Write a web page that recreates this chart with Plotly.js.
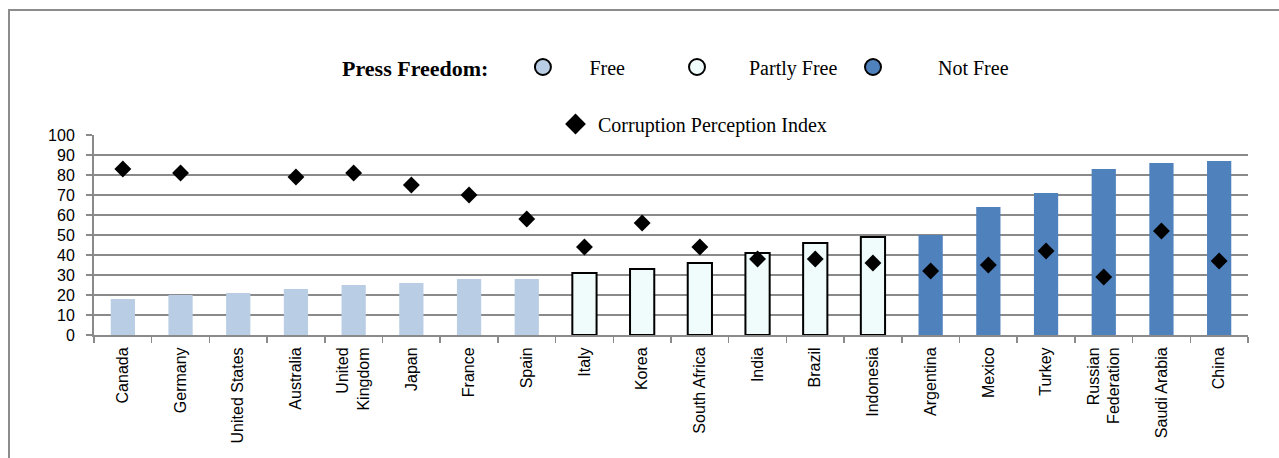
<!DOCTYPE html>
<html>
<head>
<meta charset="utf-8">
<script src="https://cdn.plot.ly/plotly-3.0.1.min.js"></script>
<style>
  html, body { margin: 0; padding: 0; background: #ffffff; }
  #chart { width: 1279px; height: 458px; }
</style>
</head>
<body>
<div id="chart"></div>
<script>
// ---------- data ----------
const countries = ["Canada", "Germany", "United States", "Australia", "United<br>Kingdom", "Japan",
  "France", "Spain", "Italy", "Korea", "South Africa", "India", "Brazil", "Indonesia",
  "Argentina", "Mexico", "Turkey", "Russian<br>Federation", "Saudi Arabia", "China"];

const freeCountries = ["Canada", "Germany", "United States", "Australia", "United<br>Kingdom", "Japan", "France", "Spain"];
const freeScores = [18, 20, 21, 23, 25, 26, 28, 28];

const partlyFreeCountries = ["Italy", "Korea", "South Africa", "India", "Brazil", "Indonesia"];
const partlyFreeScores = [31, 33, 36, 41, 46, 49];

const notFreeCountries = ["Argentina", "Mexico", "Turkey", "Russian<br>Federation", "Saudi Arabia", "China"];
const notFreeScores = [50, 64, 71, 83, 86, 87];

const cpiValues = [83, 81, null, 79, 81, 75, 70, 58, 44, 56, 44, 38, 38, 36, 32, 35, 42, 29, 52, 37];

const yTickValues = [0, 10, 20, 30, 40, 50, 60, 70, 80, 90, 100];

// ---------- styles ----------
const FREE_COLOR = "#B9CDE5";
const PARTLY_COLOR = "#F0FBFB";
const NOTFREE_COLOR = "#4F81BD";
const GRID = "#8A8A8A";
const SERIF = "Liberation Serif, Times New Roman, serif";
const SANS = "Liberation Sans, Arial, sans-serif";

// plot-area geometry helpers (paper coords)
const L = 94, R = 31, T = 135, B = 123, W = 1279, H = 458;
const pw = W - L - R, ph = H - T - B;
const px = x => (x - L) / pw;
const py = y => (H - B - y) / ph;

const barWidth = 0.42;

const traces = [
  { type: "bar", x: freeCountries, y: freeScores, width: barWidth,
    marker: { color: FREE_COLOR, line: { width: 0 } }, showlegend: false, hoverinfo: "x+y" },
  { type: "bar", x: partlyFreeCountries, y: partlyFreeScores, width: barWidth,
    marker: { color: PARTLY_COLOR, line: { color: "#000000", width: 2 } }, showlegend: false, hoverinfo: "x+y" },
  { type: "bar", x: notFreeCountries, y: notFreeScores, width: barWidth,
    marker: { color: NOTFREE_COLOR, line: { width: 0 } }, showlegend: false, hoverinfo: "x+y" },
  { type: "scatter", mode: "markers", x: countries, y: cpiValues, name: "Corruption Perception Index",
    marker: { symbol: "diamond", size: 13, color: "#000000" }, showlegend: false },
  // legend entries
  { type: "scatter", mode: "markers", x: [null], y: [null], name: "Free", legend: "legend",
    marker: { symbol: "circle", size: 16, color: FREE_COLOR, line: { color: "#000000", width: 2 } } },
  { type: "scatter", mode: "markers", x: [null], y: [null], name: "Partly Free", legend: "legend2",
    marker: { symbol: "circle", size: 16, color: PARTLY_COLOR, line: { color: "#000000", width: 2 } } },
  { type: "scatter", mode: "markers", x: [null], y: [null], name: "Not Free", legend: "legend3",
    marker: { symbol: "circle", size: 16, color: NOTFREE_COLOR, line: { color: "#000000", width: 2 } } },
  { type: "scatter", mode: "markers", x: [null], y: [null], name: "Corruption Perception Index", legend: "legend4",
    marker: { symbol: "diamond", size: 16, color: "#000000" } }
];

const legendBase = {
  orientation: "h", bgcolor: "rgba(0,0,0,0)", borderwidth: 0,
  font: { family: SERIF, size: 20, color: "#000000" },
  xanchor: "left", yanchor: "middle"
};

const layout = {
  width: W, height: H,
  margin: { l: L, r: R, t: T, b: B, pad: 0 },
  paper_bgcolor: "#ffffff", plot_bgcolor: "#ffffff",
  barmode: "overlay",
  showlegend: true,
  legend: Object.assign({}, legendBase, {
    x: px(340), y: py(67), itemwidth: 83,
    title: { text: "<b>Press Freedom:</b>", side: "left", font: { family: SERIF, size: 22, color: "#000000" } }
  }),
  legend2: Object.assign({}, legendBase, { x: px(645), y: py(67), itemwidth: 94 }),
  legend3: Object.assign({}, legendBase, { x: px(808), y: py(67), itemwidth: 120 }),
  legend4: Object.assign({}, legendBase, { x: px(553), y: py(124), itemwidth: 35 }),
  xaxis: {
    type: "category", categoryorder: "array", categoryarray: countries,
    range: [-0.5, countries.length - 0.5],
    showline: true, linecolor: GRID, linewidth: 2,
    ticks: "outside", tickson: "boundaries", ticklen: 6, tickcolor: GRID, tickwidth: 1.5,
    ticklabelstandoff: 4,
    tickangle: -90, tickfont: { family: SANS, size: 16, color: "#000000" },
    showgrid: false, zeroline: false, fixedrange: true
  },
  yaxis: {
    range: [0, 100], tickmode: "array", tickvals: yTickValues,
    showline: true, linecolor: GRID, linewidth: 2,
    ticks: "outside", ticklen: 6, tickcolor: GRID, tickwidth: 1.5,
    ticklabelstandoff: 8,
    tickfont: { family: SANS, size: 16, color: "#000000" },
    showgrid: true, gridcolor: GRID, gridwidth: 2, zeroline: false, fixedrange: true
  },
  shapes: [
    // outer frame (only top and left edges are visible)
    { type: "rect", xref: "paper", yref: "paper", x0: px(9), x1: px(1300), y0: py(480), y1: py(10),
      line: { color: "#8C8C8C", width: 2 }, fillcolor: "rgba(0,0,0,0)", layer: "below" },
    // legend background gap over the top gridline
    { type: "rect", xref: "paper", yref: "paper", x0: px(571), x1: px(1142), y0: py(142), y1: py(110),
      line: { width: 0 }, fillcolor: "#ffffff", layer: "above" }
  ]
};

Plotly.newPlot("chart", traces, layout, { displayModeBar: false, staticPlot: true });
</script>
</body>
</html>
